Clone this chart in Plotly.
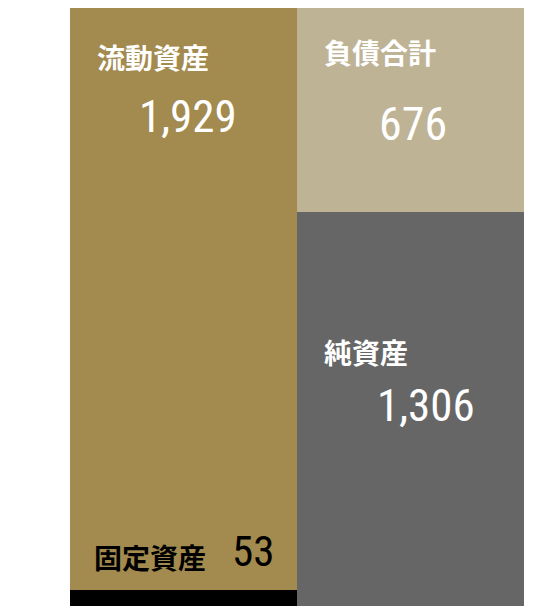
import plotly.graph_objects as go

# balance sheet (億円)
columns = ["資産", "負債・純資産"]
series_names = ["固定資産", "流動資産", "純資産", "負債合計"]
series_cols = [0, 0, 1, 1]
series_values = [53, 1929, 1306, 676]
series_colors = ["#000000", "#A38A4E", "#666666", "#BFB396"]

CJK = "Noto Sans CJK JP"
NUM = "Roboto Condensed, DejaVu Sans Condensed, sans-serif"

fig = go.Figure()
for name, col, val, color in zip(series_names, series_cols, series_values, series_colors):
    fig.add_trace(go.Bar(
        x=[columns[col]], y=[val], name=name,
        marker=dict(color=color, line=dict(width=0)),
        hoverinfo="skip",
    ))

total = sum(v for v, c in zip(series_values, series_cols) if c == 0)

# page body has an 8px margin; the figure sits at (8, 8) in the window
OFF = 8
W, H = 546, 598
L, R = 62, 30


def px2paper(px, py):
    return (px - OFF - L) / (W - L - R), (H - (py - OFF)) / H


def label(text, px, py, size, color, family, anchor="left", weight="bold"):
    xp, yp = px2paper(px, py)
    fig.add_annotation(
        text=text, x=xp, y=yp, xref="paper", yref="paper",
        xanchor=anchor, yanchor="middle", showarrow=False,
        font=dict(size=size, color=color, family=family, weight=weight),
    )


# category labels
label(series_names[1], 95, 57, 28, "white", CJK)
label(series_names[3], 322, 52, 28, "white", CJK)
label(series_names[2], 322, 352, 28, "white", CJK)
label(series_names[0], 92, 557, 28, "black", CJK)

# values
label(f"{series_values[1]:,}", 239, 116, 45, "white", NUM, anchor="right", weight="normal")
label(f"{series_values[3]:,}", 449, 124, 46, "white", NUM, anchor="right", weight="normal")
label(f"{series_values[2]:,}", 477, 405, 45, "white", NUM, anchor="right", weight="normal")
label(f"{series_values[0]:,}", 230, 551, 43, "black", NUM, anchor="left", weight="normal")

fig.update_layout(
    width=W, height=H,
    barmode="stack", bargap=0,
    showlegend=False,
    margin=dict(l=L, r=R, t=0, b=0, pad=0),
    paper_bgcolor="white", plot_bgcolor="white",
    xaxis=dict(visible=False, range=[-0.5, 1.5]),
    yaxis=dict(visible=False, range=[0, total]),
)

fig.write_html("out.html")
